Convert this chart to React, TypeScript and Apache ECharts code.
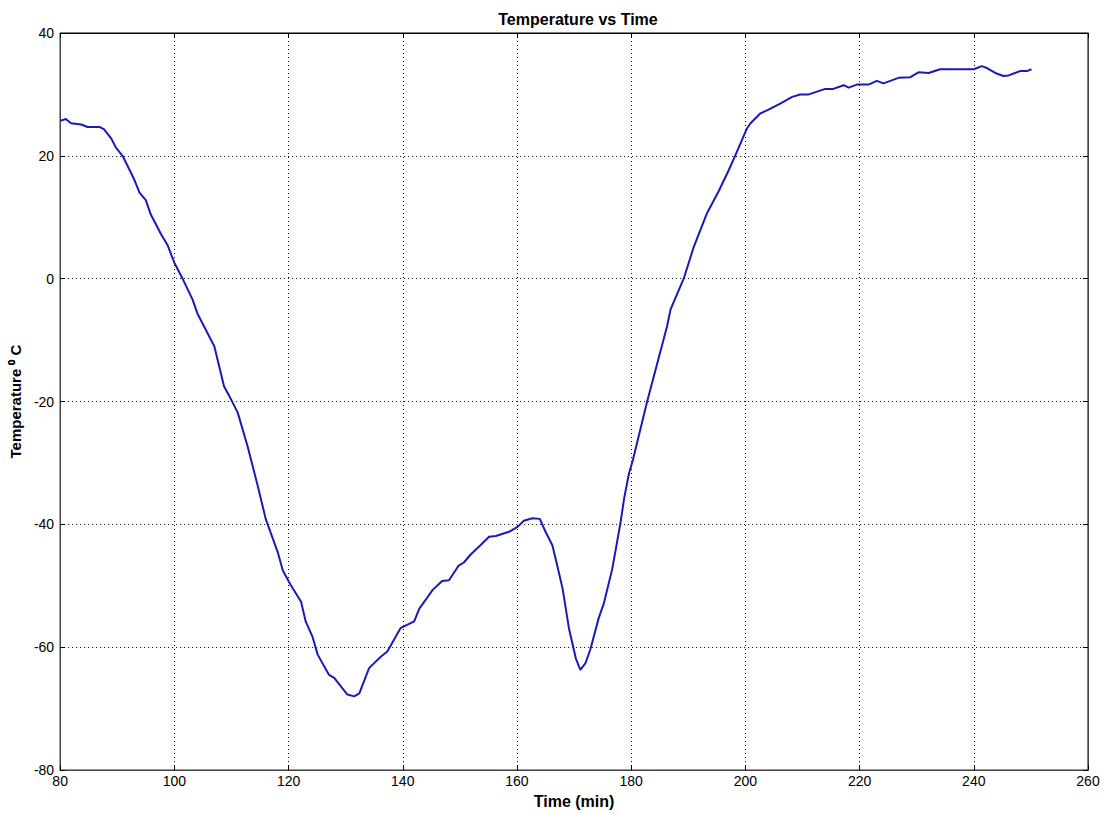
import React, { useEffect, useRef } from "react";
import * as echarts from "echarts";

const timeMin: number[] = [
  80, 81, 81.9, 83.7, 84.8, 86.9, 87.7, 88.9, 89.8, 91, 93, 93.9, 95, 95.9, 97.7, 98.8, 100, 101.5, 103.2,
  104.1, 107, 108.7, 109.9, 111.1, 112.8, 114.6, 116, 118.1, 119, 120.4, 122.2, 123, 124.2, 125.1, 127.1,
  128, 130.3, 131.5, 132.4, 134.1, 136.2, 137.3, 139.6, 142, 142.9, 144, 145.2, 146.9, 148.1, 149.8, 150.7,
  151.9, 153.6, 155.1, 156.3, 158.6, 160.1, 161.2, 162.7, 164, 165, 166.2, 167, 168, 169.1, 170.3, 171.1,
  172, 172.9, 174.3, 175.2, 176.7, 178.1, 178.8, 179.6, 180.3, 182.8, 186.3, 186.9, 189.2, 190.9, 193.3, 195.3, 197.1,
  198.2, 200.3, 200.9, 202.6, 203.8, 206.1, 208.2, 209.6, 211.1, 214, 215.4, 217.2, 218.1, 219.5, 221.6,
  223, 224.2, 226.8, 228.9, 230.3, 232.1, 234.1, 240, 241.4, 242.3, 244, 245.2, 246.1, 248.1, 249.3, 250.1,
];

const temperatureC: number[] = [
  25.7, 26.0, 25.3, 25.1, 24.7, 24.7, 24.3, 22.9, 21.3, 19.9, 16.1, 14.0, 12.8, 10.4, 7.2, 5.5, 2.6, -0.1, -3.4,
  -5.8, -11.0, -17.5, -19.6, -21.8, -27.2, -33.7, -39.1, -44.5, -47.5, -49.9, -52.6, -55.8, -58.3, -61.2, -64.5,
  -65.0, -67.7, -68.0, -67.5, -63.4, -61.5, -60.7, -56.9, -55.8, -53.7, -52.3, -50.7, -49.2, -49.1, -46.7, -46.2,
  -44.9, -43.4, -42.0, -41.9, -41.2, -40.4, -39.4, -39.0, -39.1, -41.2, -43.4, -46.5, -50.5, -56.9, -61.8, -63.7,
  -62.6, -60.2, -55.3, -52.9, -47.2, -39.9, -35.6, -31.8, -29.5, -20.0, -7.7, -5.0, 0.0, 5.0, 10.7, 14.2, 17.7,
  20.0, 24.5, 25.3, 26.9, 27.4, 28.5, 29.6, 30.0, 30.0, 30.9, 30.9, 31.5, 31.1, 31.6, 31.6,
  32.2, 31.8, 32.7, 32.8, 33.6, 33.5, 34.1, 34.1, 34.6, 34.3, 33.4, 33.0, 33.1, 33.8, 33.8, 34.1,
];

const xTicks = { min: 80, max: 260, interval: 20 };
const yTicks = { min: -80, max: 40, interval: 20 };

export default function App() {
  const ref = useRef<HTMLDivElement>(null);

  useEffect(() => {
    document.body.style.margin = "0";
    if (!ref.current) return;
    const chart = echarts.init(ref.current, undefined, { renderer: "svg" });
    const font = "Arial, 'Liberation Sans', sans-serif";
    const tickFont = "'Liberation Sans Narrow', 'Arial Narrow', Arial, 'Liberation Sans', sans-serif";
    const labelStyle = { color: "#000", fontSize: 14, fontFamily: tickFont };
    const tickStyle = { show: true, inside: true, length: 5, lineStyle: { color: "#000", width: 1 } };
    const gridLine = { show: true, lineStyle: { color: "#000", type: [1, 3] as any, width: 1 } };
    const data = timeMin.map((t, i) => [t, temperatureC[i]]);

    chart.setOption({
      animation: false,
      backgroundColor: "#fff",
      title: {
        text: "Temperature vs Time",
        left: 573,
        textAlign: "center",
        top: 6,
        textStyle: { fontSize: 16, fontWeight: "bold", color: "#000", fontFamily: font },
      },
      grid: {
        left: 59,
        right: 18,
        top: 33,
        bottom: 42,
        show: true,
        borderColor: "#000",
        borderWidth: 1,
        backgroundColor: "#fff",
      },
      xAxis: [
        {
          type: "value",
          ...xTicks,
          position: "bottom",
          name: "Time (min)",
          nameLocation: "middle",
          nameGap: 21,
          nameTextStyle: { fontSize: 16, fontWeight: "bold", color: "#000", fontFamily: font },
          axisLine: { show: true, onZero: false, lineStyle: { color: "#444", width: 1 } },
          axisTick: tickStyle,
          axisLabel: { ...labelStyle, margin: 4 },
          splitLine: gridLine,
        },
        {
          type: "value",
          ...xTicks,
          position: "top",
          axisLine: { show: true, onZero: false, lineStyle: { color: "#000", width: 1 } },
          axisTick: tickStyle,
          axisLabel: { show: false },
          splitLine: { show: false },
        },
      ],
      yAxis: [
        {
          type: "value",
          ...yTicks,
          position: "left",
          name: "Temperature ⁰ C",
          nameLocation: "middle",
          nameGap: 36,
          nameRotate: 90,
          nameTextStyle: { fontSize: 15, fontWeight: "bold", color: "#000", fontFamily: font },
          axisLine: { show: true, onZero: false, lineStyle: { color: "#444", width: 1 } },
          axisTick: tickStyle,
          axisLabel: { ...labelStyle, margin: 6 },
          splitLine: gridLine,
        },
        {
          type: "value",
          ...yTicks,
          position: "right",
          axisLine: { show: true, onZero: false, lineStyle: { color: "#444", width: 1 } },
          axisTick: tickStyle,
          axisLabel: { show: false },
          splitLine: { show: false },
        },
      ],
      series: [
        {
          type: "line",
          data,
          xAxisIndex: 0,
          yAxisIndex: 0,
          showSymbol: false,
          symbol: "none",
          smooth: false,
          lineStyle: { color: "#1a1ab8", width: 2 },
          silent: true,
        },
      ],
    });
    return () => chart.dispose();
  }, []);

  return <div ref={ref} style={{ width: 1106, height: 814 }} />;
}
